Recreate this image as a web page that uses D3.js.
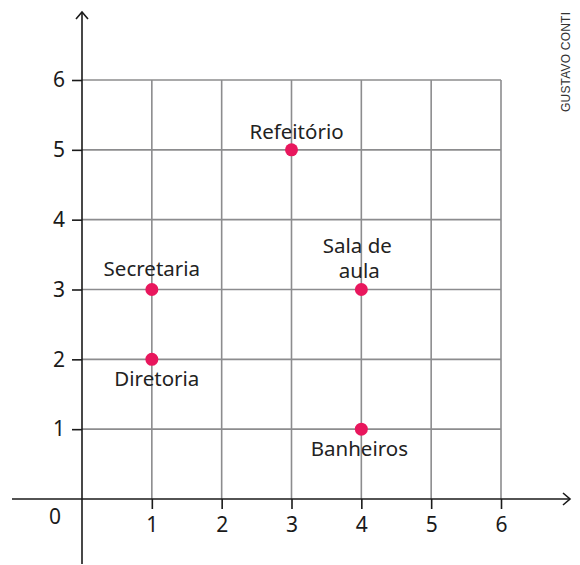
<!DOCTYPE html>
<html>
<head>
<meta charset="utf-8">
<script src="https://cdn.jsdelivr.net/npm/d3@7"></script>
<style>
  body { margin: 0; background: #fff; }
  svg { display: block; }
</style>
</head>
<body>
<svg id="chart" width="580" height="565"></svg>
<script>
// places on the grid
const places = ['Refeitório', 'Secretaria', 'Diretoria', 'Sala de aula', 'Banheiros'];
const xValues = [3, 1, 1, 4, 4];
const yValues = [5, 3, 2, 3, 1];
const xTicks = [1, 2, 3, 4, 5, 6];
const yTicks = [1, 2, 3, 4, 5, 6];

// label placement for each place: [dx, baseline dy] relative to the point
const labelOffset = {
    'Refeitório': [5, -11],
    'Secretaria': [0, -14],
    'Diretoria': [5, 27],
    'Sala de aula': [-4, -37],
    'Banheiros': [-2, 27]
};

const svg = d3.select('#chart');
const font = '"Noto Sans", "Open Sans", sans-serif';

const x = d3.scaleLinear().domain([0, 6]).range([82, 501]);
const y = d3.scaleLinear().domain([0, 6]).range([499, 80]);

// grid
const grid = svg.append('g').attr('stroke', '#8c8c8e').attr('stroke-width', 1.6);
grid.selectAll('line.v').data(xTicks).join('line')
    .attr('class', 'v')
    .attr('x1', d => x(d)).attr('x2', d => x(d))
    .attr('y1', y(0)).attr('y2', y(6));
grid.selectAll('line.h').data(yTicks).join('line')
    .attr('class', 'h')
    .attr('x1', x(0)).attr('x2', x(6))
    .attr('y1', d => y(d)).attr('y2', d => y(d));

// axes
const xAxis = svg.append('g')
    .attr('transform', 'translate(0,' + y(0) + ')')
    .call(d3.axisBottom(x).tickValues(xTicks).tickSize(10).tickPadding(8).tickFormat(d3.format('d')));
const yAxis = svg.append('g')
    .attr('transform', 'translate(' + x(0) + ',0)')
    .call(d3.axisLeft(y).tickValues(yTicks).tickSize(10).tickPadding(7).tickFormat(d3.format('d')));

[xAxis, yAxis].forEach(a => {
    a.select('.domain').remove();
    a.selectAll('.tick line').attr('stroke', '#1a1a1a').attr('stroke-width', 1.6);
    a.selectAll('.tick text').attr('fill', '#1a1a1a')
        .style('font-family', font).style('font-size', '21px');
});

// axis lines with arrows
const axisColor = '#1a1a1a';
svg.append('line')
    .attr('x1', 12).attr('x2', 570)
    .attr('y1', y(0)).attr('y2', y(0))
    .attr('stroke', axisColor).attr('stroke-width', 1.6);
svg.append('line')
    .attr('x1', x(0)).attr('x2', x(0))
    .attr('y1', 564).attr('y2', 12)
    .attr('stroke', axisColor).attr('stroke-width', 1.6);
svg.append('path')
    .attr('d', 'M563,' + (y(0) - 6) + 'L570,' + y(0) + 'L563,' + (y(0) + 6))
    .attr('fill', 'none').attr('stroke', axisColor).attr('stroke-width', 1.6);
svg.append('path')
    .attr('d', 'M' + (x(0) - 6) + ',19L' + x(0) + ',12L' + (x(0) + 6) + ',19')
    .attr('fill', 'none').attr('stroke', axisColor).attr('stroke-width', 1.6);

// origin label
svg.append('text')
    .attr('x', 55).attr('y', 524)
    .attr('text-anchor', 'middle')
    .attr('fill', '#1a1a1a')
    .style('font-family', font).style('font-size', '21px')
    .text('0');

// points
svg.selectAll('circle.pt').data(places).join('circle')
    .attr('class', 'pt')
    .attr('cx', (d, i) => x(xValues[i]))
    .attr('cy', (d, i) => y(yValues[i]))
    .attr('r', 6.5)
    .attr('fill', '#e8175d');

// labels
const labels = svg.selectAll('text.lbl').data(places).join('text')
    .attr('class', 'lbl')
    .attr('text-anchor', 'middle')
    .attr('fill', '#222')
    .style('font-family', font).style('font-size', '20.5px')
    .attr('x', (d, i) => x(xValues[i]) + labelOffset[d][0])
    .attr('y', (d, i) => y(yValues[i]) + labelOffset[d][1]);

labels.each(function(d) {
    const el = d3.select(this);
    if (d === 'Sala de aula') {
        el.append('tspan').attr('x', el.attr('x')).text('Sala de');
        el.append('tspan').attr('x', +el.attr('x') + 2).attr('dy', 25).text('aula');
    } else {
        el.text(d);
    }
});

// credit
svg.append('text')
    .attr('transform', 'translate(570,112) rotate(-90)')
    .attr('fill', '#333')
    .style('font-family', '"Liberation Sans Narrow", "Liberation Sans", Arial, sans-serif')
    .style('font-size', '12px')
    .attr('textLength', 100)
    .text('GUSTAVO CONTI');
</script>
</body>
</html>
